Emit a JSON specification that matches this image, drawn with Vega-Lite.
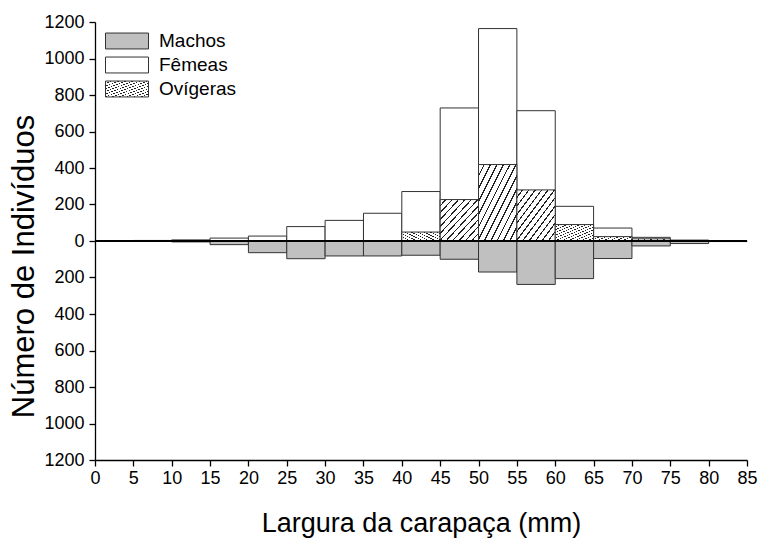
{
  "$schema": "https://vega.github.io/schema/vega-lite/v6.json",
  "width": 652,
  "height": 438,
  "autosize": {"type": "none"},
  "padding": {"left": 95, "top": 22, "right": 12, "bottom": 81},
  "background": "white",
  "params": [
    {
      "name": "hatch",
      "value": {
        "gradient": "linear",
        "x1": 0, "y1": 0, "x2": 1, "y2": 1,
        "stops": [
          {"offset": 0, "color": "#ffffff"}, {"offset": 0.065, "color": "#ffffff"}, {"offset": 0.065, "color": "#222222"}, {"offset": 0.0833, "color": "#222222"},
          {"offset": 0.0833, "color": "#ffffff"}, {"offset": 0.1483, "color": "#ffffff"}, {"offset": 0.1483, "color": "#222222"}, {"offset": 0.1667, "color": "#222222"},
          {"offset": 0.1667, "color": "#ffffff"}, {"offset": 0.2317, "color": "#ffffff"}, {"offset": 0.2317, "color": "#222222"}, {"offset": 0.25, "color": "#222222"},
          {"offset": 0.25, "color": "#ffffff"}, {"offset": 0.315, "color": "#ffffff"}, {"offset": 0.315, "color": "#222222"}, {"offset": 0.3333, "color": "#222222"},
          {"offset": 0.3333, "color": "#ffffff"}, {"offset": 0.3983, "color": "#ffffff"}, {"offset": 0.3983, "color": "#222222"}, {"offset": 0.4167, "color": "#222222"},
          {"offset": 0.4167, "color": "#ffffff"}, {"offset": 0.4817, "color": "#ffffff"}, {"offset": 0.4817, "color": "#222222"}, {"offset": 0.5, "color": "#222222"},
          {"offset": 0.5, "color": "#ffffff"}, {"offset": 0.565, "color": "#ffffff"}, {"offset": 0.565, "color": "#222222"}, {"offset": 0.5833, "color": "#222222"},
          {"offset": 0.5833, "color": "#ffffff"}, {"offset": 0.6483, "color": "#ffffff"}, {"offset": 0.6483, "color": "#222222"}, {"offset": 0.6667, "color": "#222222"},
          {"offset": 0.6667, "color": "#ffffff"}, {"offset": 0.7317, "color": "#ffffff"}, {"offset": 0.7317, "color": "#222222"}, {"offset": 0.75, "color": "#222222"},
          {"offset": 0.75, "color": "#ffffff"}, {"offset": 0.815, "color": "#ffffff"}, {"offset": 0.815, "color": "#222222"}, {"offset": 0.8333, "color": "#222222"},
          {"offset": 0.8333, "color": "#ffffff"}, {"offset": 0.8983, "color": "#ffffff"}, {"offset": 0.8983, "color": "#222222"}, {"offset": 0.9167, "color": "#222222"},
          {"offset": 0.9167, "color": "#ffffff"}, {"offset": 0.9817, "color": "#ffffff"}, {"offset": 0.9817, "color": "#222222"}, {"offset": 1, "color": "#222222"}
        ]
      }
    }
  ],
  "config": {
    "view": {"stroke": null},
    "font": "Liberation Sans",
    "axis": {
      "grid": false,
      "domainColor": "#000",
      "domainWidth": 1.3,
      "tickColor": "#000",
      "tickWidth": 1.3,
      "tickSize": 6,
      "labelColor": "#000",
      "titleColor": "#000",
      "labelFont": "Liberation Sans",
      "titleFont": "Liberation Sans",
      "labelFontSize": 18,
      "titleFontWeight": "normal"
    }
  },
  "data": {
    "values": [
      {"ini": 5, "fim": 10, "grupo": "Fêmeas", "n": 3},
      {"ini": 10, "fim": 15, "grupo": "Fêmeas", "n": 6},
      {"ini": 15, "fim": 20, "grupo": "Fêmeas", "n": 16},
      {"ini": 20, "fim": 25, "grupo": "Fêmeas", "n": 27},
      {"ini": 25, "fim": 30, "grupo": "Fêmeas", "n": 79},
      {"ini": 30, "fim": 35, "grupo": "Fêmeas", "n": 113},
      {"ini": 35, "fim": 40, "grupo": "Fêmeas", "n": 152},
      {"ini": 40, "fim": 45, "grupo": "Fêmeas", "n": 271},
      {"ini": 45, "fim": 50, "grupo": "Fêmeas", "n": 729},
      {"ini": 50, "fim": 55, "grupo": "Fêmeas", "n": 1164},
      {"ini": 55, "fim": 60, "grupo": "Fêmeas", "n": 714},
      {"ini": 60, "fim": 65, "grupo": "Fêmeas", "n": 190},
      {"ini": 65, "fim": 70, "grupo": "Fêmeas", "n": 71},
      {"ini": 70, "fim": 75, "grupo": "Fêmeas", "n": 20},
      {"ini": 75, "fim": 80, "grupo": "Fêmeas", "n": 5},
      {"ini": 80, "fim": 85, "grupo": "Fêmeas", "n": 1},
      {"ini": 40, "fim": 45, "grupo": "Ovígeras", "n": 49},
      {"ini": 45, "fim": 50, "grupo": "Ovígeras", "n": 227},
      {"ini": 50, "fim": 55, "grupo": "Ovígeras", "n": 419},
      {"ini": 55, "fim": 60, "grupo": "Ovígeras", "n": 280},
      {"ini": 60, "fim": 65, "grupo": "Ovígeras", "n": 90},
      {"ini": 65, "fim": 70, "grupo": "Ovígeras", "n": 24},
      {"ini": 70, "fim": 75, "grupo": "Ovígeras", "n": 12},
      {"ini": 0, "fim": 5, "grupo": "Machos", "n": -1},
      {"ini": 5, "fim": 10, "grupo": "Machos", "n": -2},
      {"ini": 10, "fim": 15, "grupo": "Machos", "n": -5},
      {"ini": 15, "fim": 20, "grupo": "Machos", "n": -20},
      {"ini": 20, "fim": 25, "grupo": "Machos", "n": -64},
      {"ini": 25, "fim": 30, "grupo": "Machos", "n": -97},
      {"ini": 30, "fim": 35, "grupo": "Machos", "n": -82},
      {"ini": 35, "fim": 40, "grupo": "Machos", "n": -82},
      {"ini": 40, "fim": 45, "grupo": "Machos", "n": -78},
      {"ini": 45, "fim": 50, "grupo": "Machos", "n": -100},
      {"ini": 50, "fim": 55, "grupo": "Machos", "n": -170},
      {"ini": 55, "fim": 60, "grupo": "Machos", "n": -238},
      {"ini": 60, "fim": 65, "grupo": "Machos", "n": -206},
      {"ini": 65, "fim": 70, "grupo": "Machos", "n": -96},
      {"ini": 70, "fim": 75, "grupo": "Machos", "n": -27},
      {"ini": 75, "fim": 80, "grupo": "Machos", "n": -14},
      {"ini": 80, "fim": 85, "grupo": "Machos", "n": -3}
    ]
  },
  "encoding": {
    "x": {
      "field": "ini",
      "type": "quantitative",
      "scale": {"domain": [0, 85], "nice": false, "zero": false},
      "axis": {
        "values": [0, 5, 10, 15, 20, 25, 30, 35, 40, 45, 50, 55, 60, 65, 70, 75, 80, 85],
        "title": "Largura da carapaça (mm)",
        "titleFontSize": 27,
        "titlePadding": 23,
        "labelPadding": 3,
        "labelFlush": false
      }
    },
    "x2": {"field": "fim"},
    "y": {
      "field": "n",
      "type": "quantitative",
      "scale": {"domain": [-1200, 1200], "nice": false},
      "axis": {
        "values": [-1200, -1000, -800, -600, -400, -200, 0, 200, 400, 600, 800, 1000, 1200],
        "labelExpr": "format(abs(datum.value), 'd')",
        "title": "Número de Indivíduos",
        "titleFontSize": 31,
        "titlePadding": 3,
        "titleY": 244,
        "labelPadding": 5
      }
    },
    "y2": {"datum": 0}
  },
  "layer": [
    {
      "mark": {"type": "bar", "stroke": "#333", "strokeWidth": 1, "opacity": 1},
      "encoding": {
        "fill": {
          "field": "grupo",
          "type": "nominal",
          "scale": {
            "domain": ["Machos", "Fêmeas", "Ovígeras"],
            "range": ["#c0c0c0", "#ffffff", {"expr": "hatch"}]
          },
          "legend": {
            "title": null,
            "orient": "none",
            "legendX": 10,
            "legendY": 9,
            "padding": 0,
            "clipHeight": 20,
            "symbolType": "M-1,-0.37L1,-0.37L1,0.37L-1,0.37Z",
            "symbolSize": 1849,
            "symbolStrokeColor": "#333",
            "symbolStrokeWidth": 1,
            "symbolOpacity": 1,
            "labelFont": "Liberation Sans",
            "labelFontSize": 19,
            "labelColor": "#000",
            "labelOffset": 10,
            "rowPadding": 4,
            "encode": {
              "symbols": {
                "update": {
                  "stroke": {"value": "#333"},
                  "strokeWidth": {"value": 1}
                }
              }
            }
          }
        }
      }
    },
    {
      "mark": {"type": "rule", "color": "#000", "strokeWidth": 1.5},
      "encoding": {"y": {"datum": 0}, "x": null, "x2": null, "y2": null}
    }
  ]
}
